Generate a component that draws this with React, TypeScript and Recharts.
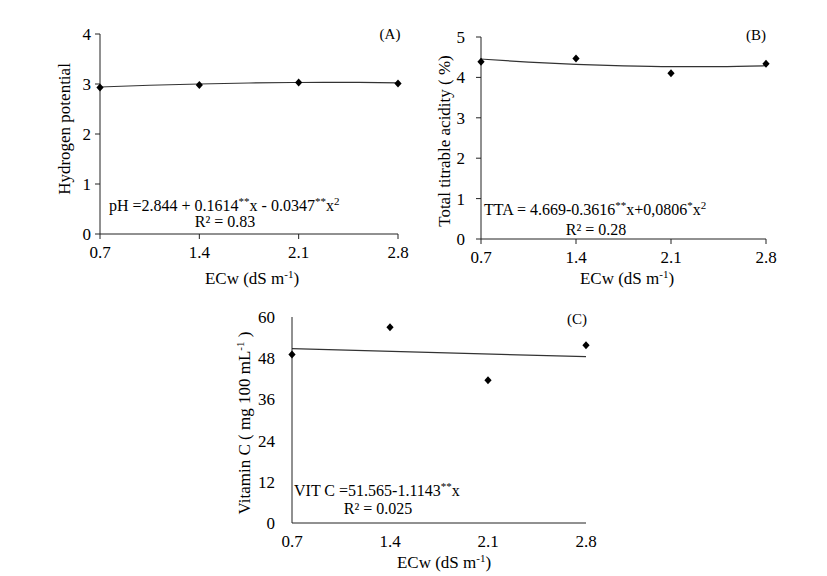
import React from "react";
import { ComposedChart, Line, Scatter, XAxis, YAxis } from "recharts";

// electrical conductivity of irrigation water (dS m-1)
const ECW = [0.7, 1.4, 2.1, 2.8];
const FIT_X = [0.7, 1.05, 1.4, 1.75, 2.1, 2.45, 2.8];

// (A) hydrogen potential
const PH_OBS = [2.93, 2.98, 3.03, 3.01];
const PH_FIT = [2.94, 2.975, 3.0, 3.02, 3.03, 3.031, 3.024];
const PH_TICKS = [0, 1, 2, 3, 4];

// (B) total titrable acidity
const TTA_OBS = [4.39, 4.47, 4.1, 4.34];
const TTA_FIT = [4.455, 4.378, 4.321, 4.283, 4.265, 4.267, 4.289];
const TTA_TICKS = [0, 1, 2, 3, 4, 5];

// (C) vitamin C
const VITC_OBS = [49.1, 57.0, 41.6, 51.8];
const VITC_FIT_X = [0.7, 2.8];
const VITC_FIT = [50.78, 48.45];
const VITC_TICKS = [0, 12, 24, 36, 48, 60];

const FONT = "Liberation Serif, Times New Roman, serif";
const INK = "#222";

function Diamond(props: any) {
  const { cx, cy } = props;
  if (cx == null || cy == null) return null;
  return (
    <polygon
      points={`${cx},${cy - 4} ${cx + 3.6},${cy} ${cx},${cy + 4} ${cx - 3.6},${cy}`}
      fill="#000"
    />
  );
}

interface PanelProps {
  plot: { x: number; y: number; w: number; h: number };
  obs: number[];
  fitX: number[];
  fit: number[];
  yTicks: number[];
  tickLen: number;
  yGap: number;
  xGap: number;
}

function Panel({ plot, obs, fitX, fit, yTicks, tickLen, yGap, xGap }: PanelProps) {
  const yw = 60;
  const mt = 10;
  const mr = 12;
  const xh = 40;
  const points = ECW.map((x, i) => ({ x, y: obs[i] }));
  const fitted = fitX.map((x, i) => ({ x, y: fit[i] }));
  const tick = { fontSize: 17, fill: "#000", fontFamily: FONT };

  return (
    <div style={{ position: "absolute", left: plot.x - yw, top: plot.y - mt }}>
      <ComposedChart
        width={yw + plot.w + mr}
        height={mt + plot.h + xh}
        margin={{ top: mt, right: mr, left: 0, bottom: 0 }}
      >
        <XAxis
          dataKey="x"
          type="number"
          domain={[0.7, 2.8]}
          ticks={ECW}
          tick={tick}
          height={xh}
          stroke={INK}
          tickLine={tickLen > 0}
          tickSize={tickLen}
          tickMargin={xGap - tickLen}
        />
        <YAxis
          dataKey="y"
          type="number"
          domain={[0, yTicks[yTicks.length - 1]]}
          ticks={yTicks}
          tick={tick}
          width={yw}
          stroke={INK}
          tickLine={tickLen > 0}
          tickSize={tickLen}
          tickMargin={yGap - tickLen}
        />
        <Line
          data={fitted}
          dataKey="y"
          type="monotone"
          stroke="#333"
          strokeWidth={1.2}
          dot={false}
          activeDot={false}
          isAnimationActive={false}
        />
        <Scatter data={points} dataKey="y" shape={Diamond} isAnimationActive={false} />
      </ComposedChart>
    </div>
  );
}

const sup = { fontSize: 11 };

export default function App() {
  return (
    <div
      style={{
        position: "absolute",
        left: 0,
        top: 0,
        width: 827,
        height: 576,
        background: "#fff",
        overflow: "hidden",
      }}
    >
      <Panel
        plot={{ x: 100, y: 34, w: 298, h: 200 }}
        obs={PH_OBS}
        fitX={FIT_X}
        fit={PH_FIT}
        yTicks={PH_TICKS}
        tickLen={5}
        yGap={9}
        xGap={12}
      />
      <Panel
        plot={{ x: 481, y: 37, w: 285, h: 202 }}
        obs={TTA_OBS}
        fitX={FIT_X}
        fit={TTA_FIT}
        yTicks={TTA_TICKS}
        tickLen={5}
        yGap={16}
        xGap={12}
      />
      <Panel
        plot={{ x: 292, y: 317, w: 294, h: 206 }}
        obs={VITC_OBS}
        fitX={VITC_FIT_X}
        fit={VITC_FIT}
        yTicks={VITC_TICKS}
        tickLen={0}
        yGap={17}
        xGap={12}
      />

      <svg
        width={827}
        height={576}
        style={{ position: "absolute", left: 0, top: 0, pointerEvents: "none" }}
        fontFamily={FONT}
        fill="#000"
      >
        {/* panel A */}
        <text x={390} y={38.5} fontSize={15} textAnchor="middle">(A)</text>
        <text x={109} y={211} fontSize={16}>
          pH =2.844 + 0.1614<tspan dy={-6} style={sup}>**</tspan>
          <tspan dy={6}>x - 0.0347</tspan>
          <tspan dy={-6} style={sup}>**</tspan>
          <tspan dy={6}>x</tspan>
          <tspan dy={-6} style={sup}>2</tspan>
        </text>
        <text x={225} y={227} fontSize={16} textAnchor="middle">R² = 0.83</text>
        <text x={252} y={284} fontSize={17} textAnchor="middle">
          ECw (dS m<tspan dy={-6} style={sup}>-1</tspan>
          <tspan dy={6}>)</tspan>
        </text>
        <text x={70} y={129} fontSize={17} textAnchor="middle" transform="rotate(-90 70 129)">
          Hydrogen potential
        </text>

        {/* panel B */}
        <text x={756} y={40} fontSize={15} textAnchor="middle">(B)</text>
        <text x={484} y={215} fontSize={16}>
          TTA  = 4.669-0.3616<tspan dy={-6} style={sup}>**</tspan>
          <tspan dy={6}>x+0,0806</tspan>
          <tspan dy={-6} style={sup}>*</tspan>
          <tspan dy={6}>x</tspan>
          <tspan dy={-6} style={sup}>2</tspan>
        </text>
        <text x={596} y={235} fontSize={16} textAnchor="middle">R² = 0.28</text>
        <text x={627} y={284} fontSize={17} textAnchor="middle">
          ECw (dS m<tspan dy={-6} style={sup}>-1</tspan>
          <tspan dy={6}>)</tspan>
        </text>
        <text x={450} y={141} fontSize={17} textAnchor="middle" transform="rotate(-90 450 141)">
          Total titrable acidity ( %)
        </text>

        {/* panel C */}
        <text x={577} y={324} fontSize={15} textAnchor="middle">(C)</text>
        <text x={294} y={496} fontSize={16}>
          VIT C =51.565-1.1143<tspan dy={-6} style={sup}>**</tspan>
          <tspan dy={6}>x</tspan>
        </text>
        <text x={378} y={514} fontSize={16} textAnchor="middle">R² = 0.025</text>
        <text x={444} y={568} fontSize={17} textAnchor="middle">
          ECw (dS m<tspan dy={-6} style={sup}>-1</tspan>
          <tspan dy={6}>)</tspan>
        </text>
        <text x={250} y={423} fontSize={17} textAnchor="middle" transform="rotate(-90 250 423)">
          Vitamin C ( mg 100 mL<tspan dy={-6} style={sup}>-1</tspan>
          <tspan dy={6}> )</tspan>
        </text>
      </svg>
    </div>
  );
}
